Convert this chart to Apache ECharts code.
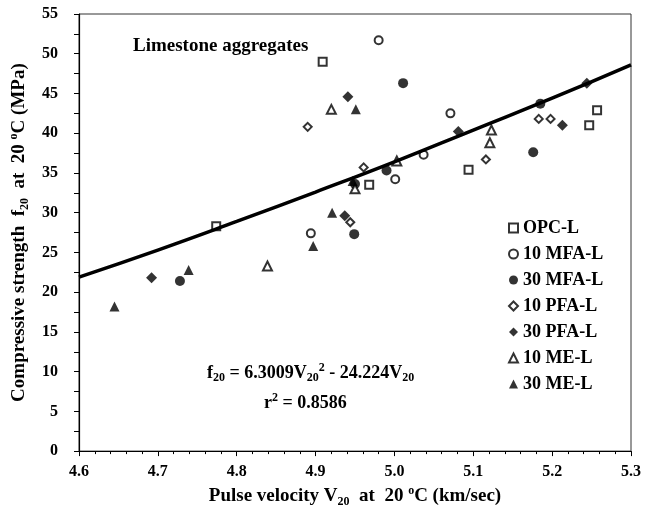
<!DOCTYPE html>
<html>
<head>
<meta charset="utf-8">
<script src="https://cdn.jsdelivr.net/npm/echarts@6/dist/echarts.min.js"></script>
<style>
html,body{margin:0;padding:0;background:#fff;}
#chart{width:659px;height:513px;}
</style>
</head>
<body>
<div id="chart"></div>
<script>
// ---- data ----
const opcV   = [4.774, 4.909, 4.968, 5.094, 5.247, 5.257];
const opcF   = [28.3, 49.0, 33.5, 35.4, 41.0, 42.9];
const mfa10V = [4.894, 4.980, 5.001, 5.037, 5.071];
const mfa10F = [27.4, 51.7, 34.2, 37.3, 42.5];
const mfa30V = [4.728, 4.949, 4.950, 4.990, 5.011, 5.176, 5.185];
const mfa30F = [21.4, 27.3, 33.6, 35.3, 46.3, 37.6, 43.7];
const pfa10V = [4.890, 4.944, 4.961, 5.116, 5.183, 5.198];
const pfa10F = [40.8, 28.8, 35.7, 36.7, 41.8, 41.8];
const pfa30V = [4.692, 4.937, 4.941, 5.081, 5.213, 5.244];
const pfa30F = [21.8, 29.6, 44.6, 40.2, 41.0, 46.3];
const me10V  = [4.839, 4.920, 4.950, 5.003, 5.121, 5.123];
const me10F  = [23.3, 43.0, 33.0, 36.5, 38.8, 40.4];
const me30V  = [4.645, 4.739, 4.897, 4.921, 4.947, 4.951];
const me30F  = [18.2, 22.8, 25.8, 30.0, 34.0, 43.0];
// points
const fitV   = [4.6, 4.7, 4.8, 4.9, 5.0, 5.1, 5.2, 5.3];
const fitF   = [21.9, 25.3, 28.9, 32.6, 36.4, 40.4, 44.4, 48.6];
const seriesNames = ['OPC-L', '10 MFA-L', '30 MFA-L', '10 PFA-L', '30 PFA-L', '10 ME-L', '30 ME-L'];
const xTicks = [4.6, 4.7, 4.8, 4.9, 5.0, 5.1, 5.2, 5.3];

const zip = (a, b) => a.map((v, i) => [v, b[i]]);
const FONT = '"Liberation Serif", "Times New Roman", serif';

const openStyle = {color: '#fff', borderColor: '#000', borderWidth: 2};
const fillStyle = {color: '#000', borderColor: '#000', borderWidth: 0};

function sc(name, v, f, symbol, size, style) {
  return {
    name: name, type: 'scatter', data: zip(v, f), symbol: symbol, symbolSize: size,
    itemStyle: style, z: 2, emphasis: {disabled: true}
  };
}

const rich = {
  b: {fontFamily: FONT, fontWeight: 'bold', fontSize: 18, lineHeight: 22, color: '#000', verticalAlign: 'middle'},
  s: {fontFamily: FONT, fontWeight: 'bold', fontSize: 12, lineHeight: 12, color: '#000', verticalAlign: 'bottom'},
  p: {fontFamily: FONT, fontWeight: 'bold', fontSize: 12, lineHeight: 12, color: '#000', verticalAlign: 'top'}
};
const richT = {
  b: {fontFamily: FONT, fontWeight: 'bold', fontSize: 19, lineHeight: 23, color: '#000', verticalAlign: 'middle'},
  s: {fontFamily: FONT, fontWeight: 'bold', fontSize: 12, lineHeight: 12, color: '#000', verticalAlign: 'bottom'},
  p: {fontFamily: FONT, fontWeight: 'bold', fontSize: 12, lineHeight: 12, color: '#000', verticalAlign: 'top'}
};

const chart = echarts.init(document.getElementById('chart'));
chart.setOption({
  animation: false,
  backgroundColor: '#fff',
  grid: {left: 79, right: 28, top: 14, bottom: 55, show: true, borderColor: '#333', borderWidth: 1},
  xAxis: {
    type: 'value', min: xTicks[0], max: xTicks[xTicks.length - 1], interval: 0.1,
    axisLine: {onZero: false, lineStyle: {color: '#000', width: 1.2}},
    axisTick: {show: true, inside: false, length: 5, lineStyle: {color: '#000'}},
    minorTick: {show: true, splitNumber: 5, length: 3, lineStyle: {color: '#000'}},
    splitLine: {show: false},
    axisLabel: {fontFamily: FONT, fontWeight: 'bold', fontSize: 16, color: '#000', margin: 13,
      formatter: v => v.toFixed(1)},
    name: '{b|Pulse velocity V}{s|20}{b|  at  20 }{p|o}{b|C (km/sec)}',
    nameLocation: 'middle', nameGap: 29,
    nameTextStyle: {rich: richT}
  },
  yAxis: {
    type: 'value', min: 0, max: 55, interval: 5,
    axisLine: {onZero: false, lineStyle: {color: '#000', width: 1.2}},
    axisTick: {show: true, inside: false, length: 5, lineStyle: {color: '#000'}},
    minorTick: {show: true, splitNumber: 2, length: 5, lineStyle: {color: '#000'}},
    splitLine: {show: false},
    axisLabel: {fontFamily: FONT, fontWeight: 'bold', fontSize: 16, color: '#000', margin: 21},
    name: '{b|Compressive strength  f}{s|20}{b|  at  20 }{p|o}{b|C (MPa)}',
    nameLocation: 'middle', nameGap: 48,
    nameTextStyle: {rich: richT}
  },
  legend: {
    data: seriesNames, orient: 'vertical', left: 503, top: 214, itemGap: 8,
    itemWidth: 9, itemHeight: 9, itemStyle: {},
    textStyle: {fontFamily: FONT, fontWeight: 'bold', fontSize: 18, lineHeight: 18, color: '#000'}
  },
  graphic: [
    {type: 'text', left: 133, top: 37, style: {text: 'Limestone aggregates', font: 'bold 19px ' + FONT, fill: '#000'}},
    {type: 'text', left: 207, top: 362, style: {text: '{b|f}{s|20}{b| = 6.3009V}{s|20}{p|2}{b| - 24.224V}{s|20}', rich: rich}},
    {type: 'text', left: 264, top: 392, style: {text: '{b|r}{p|2}{b| = 0.8586}', rich: rich}}
  ],
  series: [
    {name: 'fit', type: 'line', data: zip(fitV, fitF), symbol: 'none', smooth: true,
     lineStyle: {color: '#000', width: 3.5}, z: 3, silent: true},
    sc(seriesNames[0], opcV, opcF, 'rect', 8, openStyle),
    sc(seriesNames[1], mfa10V, mfa10F, 'circle', 8, openStyle),
    sc(seriesNames[2], mfa30V, mfa30F, 'circle', 10, fillStyle),
    sc(seriesNames[3], pfa10V, pfa10F, 'diamond', 8, openStyle),
    sc(seriesNames[4], pfa30V, pfa30F, 'diamond', 11, fillStyle),
    sc(seriesNames[5], me10V, me10F, 'triangle', 9, openStyle),
    sc(seriesNames[6], me30V, me30F, 'triangle', 10, fillStyle)
  ]
});
</script>
</body>
</html>
